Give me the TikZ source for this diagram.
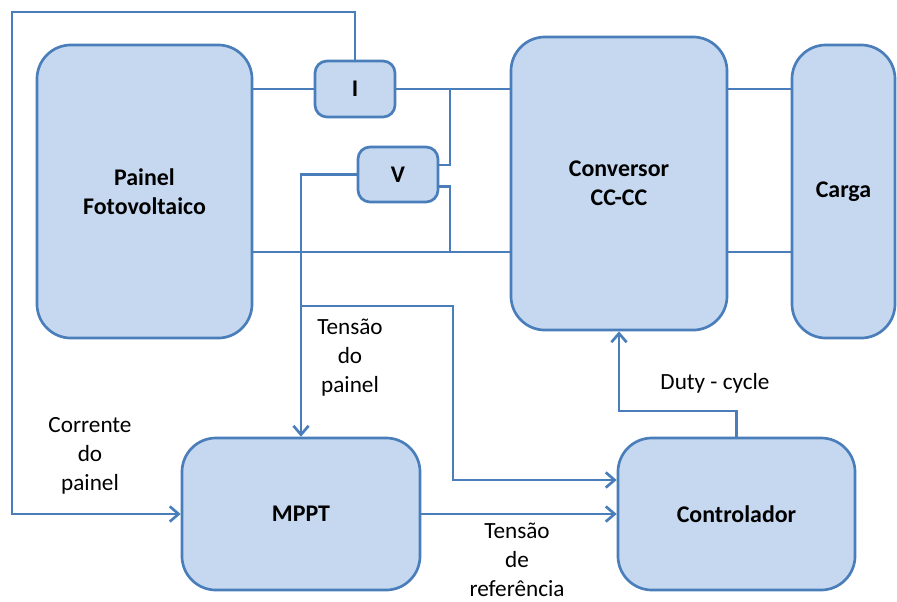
\documentclass[tikz,border=0pt]{standalone}
\usepackage{fontspec}
\setmainfont{Carlito}
\usetikzlibrary{arrows.meta}
\definecolor{boxfill}{RGB}{197,216,240}
\definecolor{boxline}{RGB}{74,126,187}
\begin{document}
\begin{tikzpicture}[x=0.025cm, y=-0.025cm, >={Straight Barb[length=2.2mm,width=3.8mm]},
    bloco/.style={draw=boxline, fill=boxfill, line width=1.9pt, rounded corners=0.85cm,
        font=\fontsize{17}{20.6}\selectfont\bfseries, align=center, inner sep=0pt},
    sensor/.style={bloco, rounded corners=0.3cm, minimum width=2cm},
    fio/.style={draw=boxline, line width=1.9pt},
    rotulo/.style={font=\fontsize{16.5}{20.6}\selectfont, align=center, inner sep=0pt}]
        \useasboundingbox (0,0) rectangle (897,601);

        % -- Blocos --
        \node[bloco, minimum width=5.375cm, minimum height=7.325cm] (painel) at (144.5,191.5) {Painel\\Fotovoltaico};
        \node[sensor, minimum height=1.4cm] (I) at (355,89) {I};
        \node[sensor, minimum height=1.375cm] (V) at (398,174.5) {V};
        \node[bloco, minimum width=5.4cm, minimum height=7.325cm] (conv) at (619,183.5) {Conversor\\CC-CC};
        \node[bloco, minimum width=2.575cm, minimum height=7.325cm] (carga) at (843.5,191.5) {Carga};
        \node[bloco, minimum width=5.95cm, minimum height=3.8cm] (mppt) at (301,514) {MPPT};
        \node[bloco, minimum width=5.925cm, minimum height=3.8cm] (ctrl) at (736.5,514) {Controlador};

        % Pontos de ligacao
        \coordinate (topo) at (12,12);
        \coordinate (jI) at (450,89);
        \coordinate (jV) at (450,252);
        \coordinate (jT) at (301,306);
        \coordinate (desvio) at (453,480);
        \coordinate (duty) at (619,411);

        % -- Circuito de potencia --
        \draw[fio] (I.west -| painel.east) -- (I.west);
        \draw[fio] (I.east) -- (I.east -| conv.west);
        \draw[fio] (jI) |- ([yshift=0.24cm]V.east);
        \draw[fio] ([yshift=-0.3cm]V.east) -| (jV);
        \draw[fio] (jV -| painel.east) -- (jV -| conv.west);
        \draw[fio] (conv.east |- jI) -- (carga.west |- jI);
        \draw[fio] (conv.east |- jV) -- (carga.west |- jV);

        % -- Sinais de medida e controle --
        \draw[fio, ->] (I.north) |- (topo) |- (mppt.west);
        \draw[fio, ->] (V.west) -| (mppt.north);
        \draw[fio, ->] (jT) -| (desvio) -- (desvio -| ctrl.west);
        \draw[fio, ->] (mppt.east) -- (ctrl.west);
        \draw[fio, ->] (ctrl.north) |- (duty) -- (conv.south);

        % Rotulos
        \node[rotulo] (lTp) at (350,358) {Tensão\\do\\painel};
        \node[rotulo] (lCp) at (90,456) {Corrente\\do\\painel};
        \node[rotulo] (lTr) at (517,560) {Tensão\\de\\referência};
        \node[rotulo] (lDc) at (715,383) {Duty - cycle};
    \end{tikzpicture}
\end{document}
